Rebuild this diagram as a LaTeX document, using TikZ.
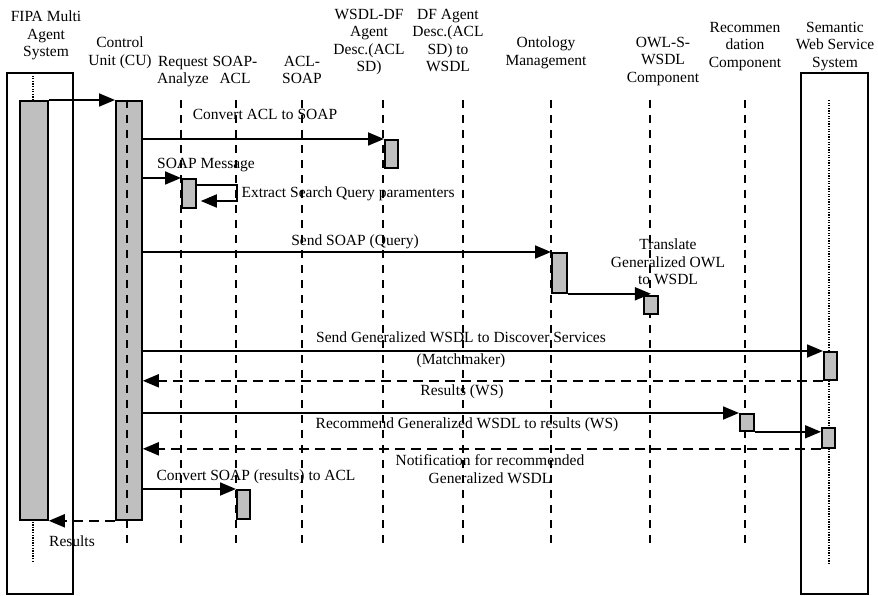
\documentclass[tikz,border=0pt]{standalone}
\usepackage{fontspec}
\setmainfont{Liberation Serif}
\usetikzlibrary{arrows.meta}

\begin{document}
\begin{tikzpicture}[x=1pt,y=-1pt,
  font=\fontsize{15.5}{17.5}\selectfont,
  box/.style={draw,line width=1.5pt},
  act/.style={draw,line width=1.8pt,fill=gray!50,inner sep=0,anchor=north west},
  lifeline/.style={line width=2.2pt,dash pattern=on 8pt off 7pt},
  dotline/.style={line width=1.3pt,dash pattern=on 1.3pt off 1.3pt},
  msg/.style={line width=1.8pt,-{Triangle[length=16pt,width=13pt]}},
  reply/.style={msg,dash pattern=on 10pt off 6pt},
  head/.style={align=center,anchor=north,inner sep=0}
]
\useasboundingbox (0,0) rectangle (878,596);

% headers
\node[head] (fipa) at (46,11) {FIPA Multi\\Agent\\System};
\node[head] (cu) at (120,37) {Control\\Unit (CU)};
\node[head] (ra) at (183,56) {Request\\Analyze};
\node[head] (sa) at (235,56) {SOAP-\\ACL};
\node[head] (as) at (302,56) {ACL-\\SOAP};
\node[head] (wd) at (369,9) {WSDL-DF\\Agent\\Desc.(ACL\\SD)};
\node[head] (dw) at (448,9) {DF Agent\\Desc.(ACL\\SD) to\\WSDL};
\node[head] (om) at (546,37) {Ontology\\Management};
\node[head] (ow) at (663,37) {OWL-S-\\WSDL\\Component};
\node[head] (rc) at (745,22) {Recommen\\dation\\Component};
\node[head] (sw) at (835,22) {Semantic\\Web Service\\System};

% system boxes and lifelines
\draw[box] (7,73) rectangle (73,594);
\draw[box] (801,73) rectangle (868,594);
\draw[dotline] (33,73) -- (33,100);
\draw[dotline] (33,519) -- (33,563);
\draw[dotline] (829,100) -- (829,565);
\foreach \x in {181,236,302,383,463,551,650,745}
  \draw[lifeline] (\x,100) -- (\x,545);

% activations
\node[act,minimum width=28pt,minimum height=419pt] (fipaact) at (19,100) {};
\node[act,minimum width=26pt,minimum height=419pt] (cuact) at (115,100) {};
\draw[lifeline] (127,100) -- (127,545);
\node[act,minimum width=13pt,minimum height=28pt] (wdact) at (384,139) {};
\node[act,minimum width=14pt,minimum height=29pt] (raact) at (181,178) {};
\node[act,minimum width=15pt,minimum height=40pt] (omact) at (551,252) {};
\node[act,minimum width=14pt,minimum height=18pt] (owact) at (643,295) {};
\node[act,minimum width=13pt,minimum height=28pt] (swact) at (823,351) {};
\node[act,minimum width=14pt,minimum height=17pt] (rcact) at (739,413) {};
\node[act,minimum width=13pt,minimum height=20pt] (swnote) at (821,427) {};
\node[act,minimum width=13pt,minimum height=29pt] (saact) at (236,489) {};

% messages
\draw[msg] (fipaact.north east) -- (cuact.north west);
\draw[msg] (cuact.east |- wdact.north) -- (wdact.north west);
\node (m1) at (265,114) {Convert ACL to SOAP};
\draw[msg] (cuact.east |- raact.north) -- (raact.north west);
\node (m2) at (206,165) {SOAP Message};
\draw[msg] ([yshift=-7pt]raact.north east) -- ++(40,0) -- ++(0,16)
  -- ([xshift=4pt,yshift=-23pt]raact.north east);
\node[anchor=west] (m3) at (238,194) {Extract Search Query paramenters};
\draw[msg] (cuact.east |- omact.north) -- (omact.north west);
\node (m4) at (355,242) {Send SOAP (Query)};
\draw[msg] (omact.south east) -- (omact.south east -| owact.north);
\node[align=center] (m5) at (668,262) {Translate\\Generalized OWL\\to WSDL};
\draw[msg] (cuact.east |- swact.north) -- (swact.north west);
\node (m6) at (461,337) {Send Generalized WSDL to Discover Services};
\node (m6b) at (461,361) {(Matchmaker)};
\draw[reply] (swact.south west) -- (swact.south west -| cuact.east);
\node (m7) at (462,392) {Results (WS)};
\draw[msg] (cuact.east |- rcact.north) -- (rcact.north west);
\node (m8) at (467,425) {Recommend Generalized WSDL to results (WS)};
\draw[msg] (rcact.south east) -- (rcact.south east -| swnote.west);
\draw[reply] (swnote.south west) -- (swnote.south west -| cuact.east);
\node[align=center] (m9) at (490,469) {Notification for recommended\\Generalized WSDL};
\draw[msg] (cuact.east |- saact.north) -- (saact.north west);
\node (m10) at (256,477) {Convert SOAP (results) to ACL};
\draw[reply] (cuact.south west) -- (fipaact.south east);
\node (m11) at (72,541) {Results};
\end{tikzpicture}
\end{document}
